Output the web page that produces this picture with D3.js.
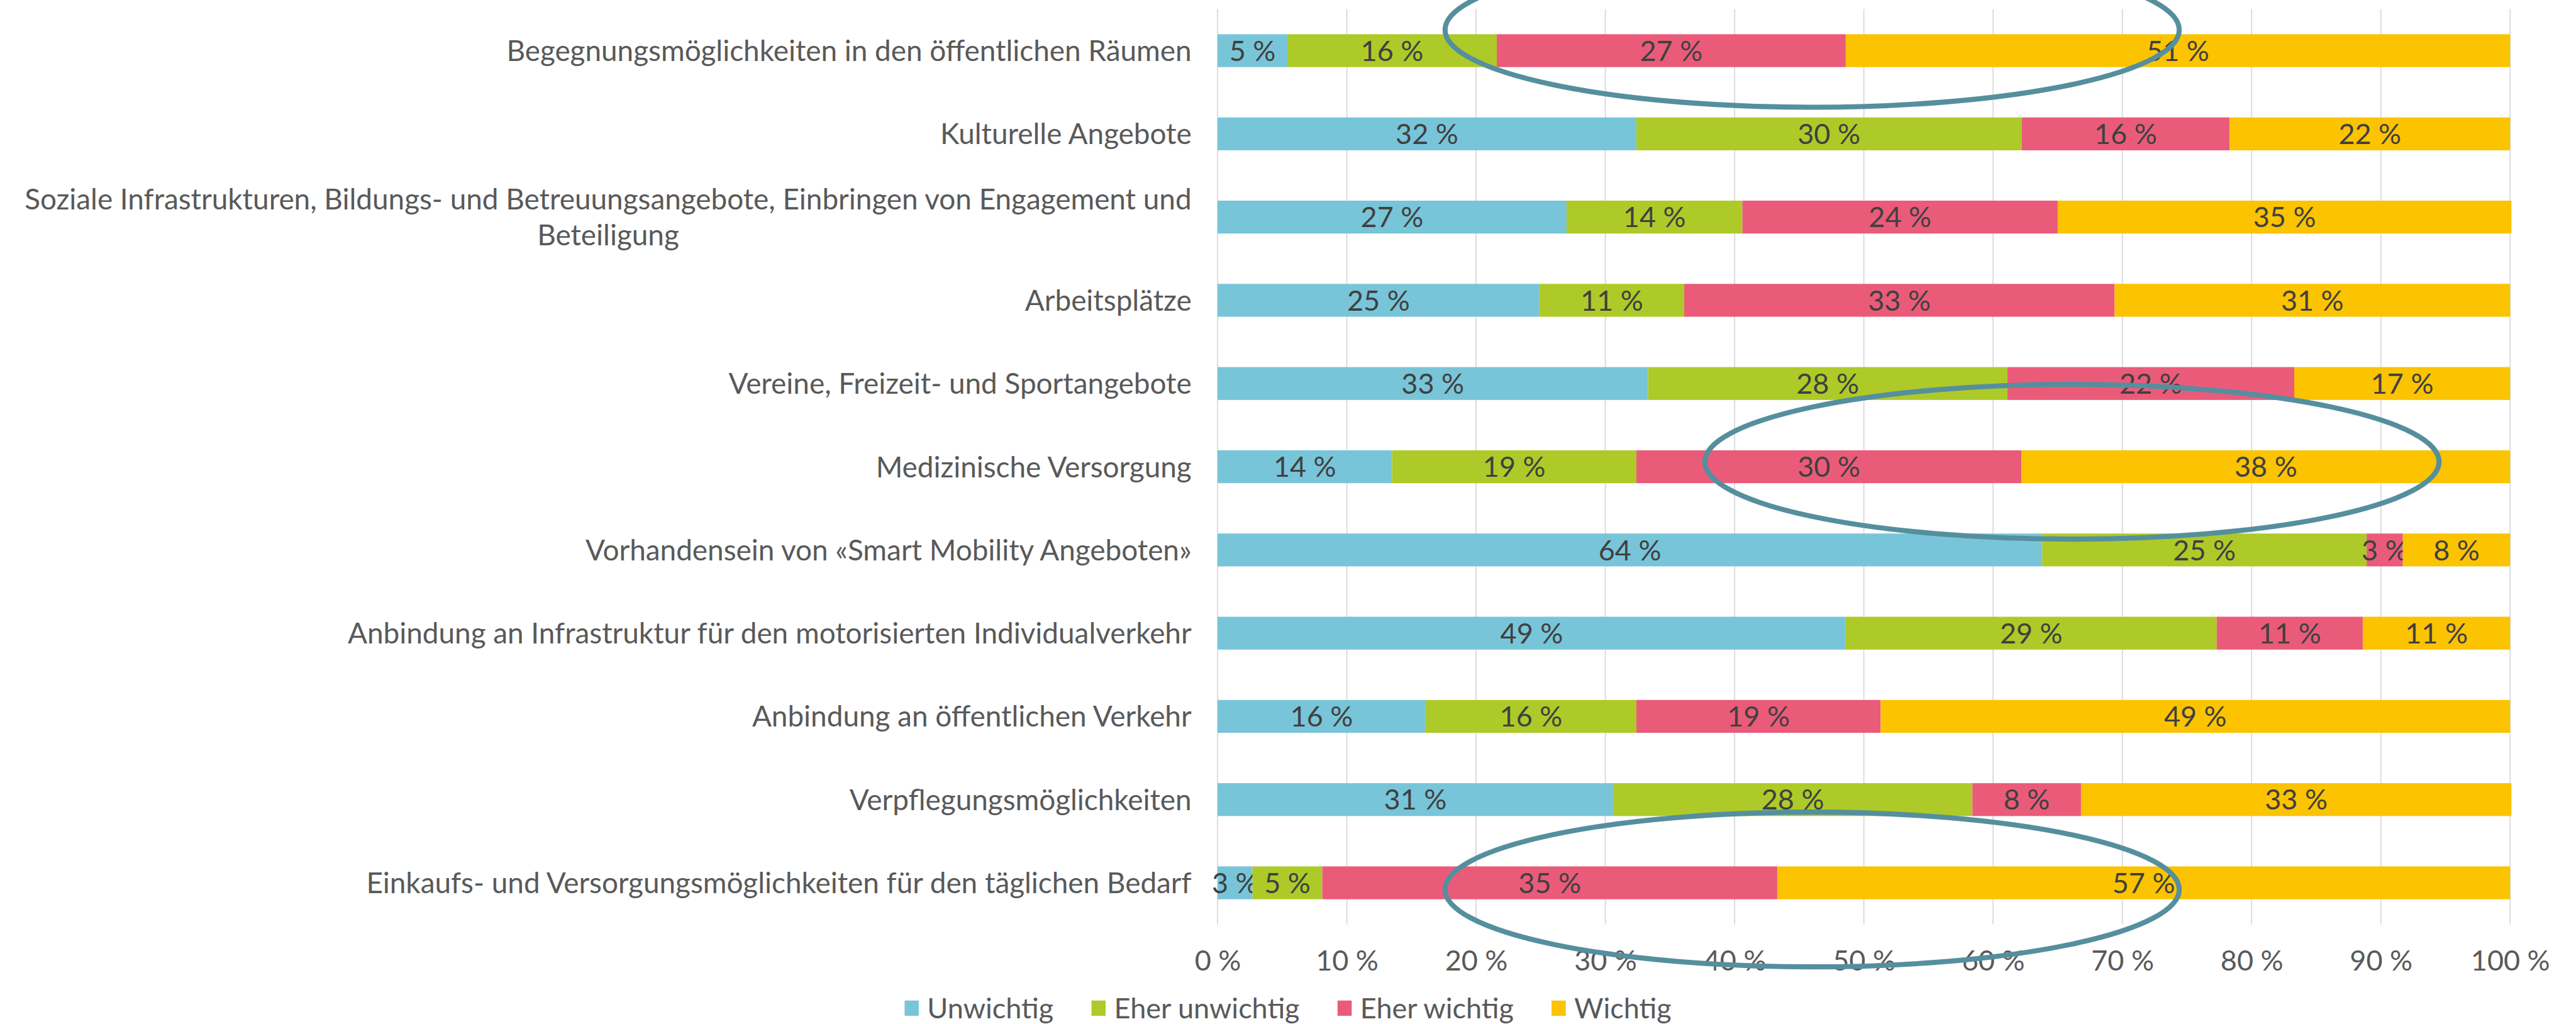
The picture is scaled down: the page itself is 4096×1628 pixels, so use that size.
<!DOCTYPE html>
<html>
<head>
<meta charset="utf-8">
<script src="https://cdn.jsdelivr.net/npm/d3@7"></script>
<style>
  html, body { margin: 0; padding: 0; background: #fff; }
  svg { display: block; }
  text { font-family: Lato, "Open Sans", sans-serif; }
</style>
</head>
<body>
<div id="chart"></div>
<script>
// Kategorien (von oben nach unten), Zeilenumbruch mit \n
const categories = [
    "Begegnungsmöglichkeiten in den öffentlichen Räumen",
    "Kulturelle Angebote",
    "Soziale Infrastrukturen, Bildungs- und Betreuungsangebote, Einbringen von Engagement und\nBeteiligung",
    "Arbeitsplätze",
    "Vereine, Freizeit- und Sportangebote",
    "Medizinische Versorgung",
    "Vorhandensein von «Smart Mobility Angeboten»",
    "Anbindung an Infrastruktur für den motorisierten Individualverkehr",
    "Anbindung an öffentlichen Verkehr",
    "Verpflegungsmöglichkeiten",
    "Einkaufs- und Versorgungsmöglichkeiten für den täglichen Bedarf"
];

const seriesNames = ["Unwichtig", "Eher unwichtig", "Eher wichtig", "Wichtig"];
const seriesColors = ["#78c5d9", "#aeca28", "#ea5b7a", "#fbc300"];

// Werte in Prozent
const unwichtig     = [5.4, 32.4, 27.0, 24.9, 33.3, 13.5, 63.8, 48.6, 16.1, 30.6, 2.7];
const eherUnwichtig = [16.2, 29.8, 13.6, 11.2, 27.8, 18.9, 25.1, 28.7, 16.3, 27.8, 5.4];
const eherWichtig   = [27.0, 16.1, 24.4, 33.3, 22.2, 29.8, 2.8, 11.3, 18.9, 8.4, 35.2];
const wichtig       = [51.4, 21.7, 35.1, 30.6, 16.7, 37.8, 8.3, 11.4, 48.7, 33.3, 56.7];

const xTicks = [0, 10, 20, 30, 40, 50, 60, 70, 80, 90, 100];

// Markierungen (Ellipsen): Kategorie, Mittelpunkt in %, Versatz in Bandbreiten
const markCategories = [0, 5, 10];
const markCenters    = [46.0, 66.1, 46.0];
const markOffsets    = [-0.25, -0.06, 0.08];

// Konfiguration (Referenzmaße, per viewBox skaliert)
const W = 4553, H = 1810;
const margin = { left: 2152, right: 116, top: 16, bottom: 176 };
const fontSize = 50;
const labelFontSize = 51;

const rows = categories.map((c, i) => ({
    category: c,
    "Unwichtig": unwichtig[i],
    "Eher unwichtig": eherUnwichtig[i],
    "Eher wichtig": eherWichtig[i],
    "Wichtig": wichtig[i]
}));

const svg = d3.select('#chart')
    .append('svg')
    .attr('width', 4096)
    .attr('height', 1628)
    .attr('viewBox', `0 0 ${W} ${H}`);

const x = d3.scaleLinear()
    .domain([0, 100])
    .range([margin.left, W - margin.right]);

const y = d3.scaleBand()
    .domain(categories)
    .range([margin.top, H - margin.bottom])
    .paddingInner(0.605)
    .paddingOuter(0.3025);

// Gitternetzlinien
svg.append('g')
    .selectAll('line')
    .data(xTicks)
    .join('line')
    .attr('x1', d => x(d))
    .attr('x2', d => x(d))
    .attr('y1', margin.top)
    .attr('y2', H - margin.bottom)
    .attr('stroke', '#d9d9d9')
    .attr('stroke-width', 2);

// Gestapelte Balken
const stack = d3.stack().keys(seriesNames);
const stacked = stack(rows);

const layers = svg.append('g')
    .selectAll('g')
    .data(stacked)
    .join('g')
    .attr('fill', (d, i) => seriesColors[i]);

layers.selectAll('rect')
    .data(d => d)
    .join('rect')
    .attr('x', d => x(d[0]))
    .attr('y', d => y(d.data.category))
    .attr('width', d => x(d[1]) - x(d[0]))
    .attr('height', y.bandwidth());

// Datenbeschriftungen
layers.selectAll('text')
    .data(d => d)
    .join('text')
    .attr('x', d => (x(d[0]) + x(d[1])) / 2)
    .attr('y', d => y(d.data.category) + y.bandwidth() / 2)
    .attr('dy', '0.36em')
    .attr('text-anchor', 'middle')
    .attr('font-size', fontSize)
    .attr('fill', '#404040')
    .text(d => Math.round(d[1] - d[0]) + ' %');

// X-Achse (nur Beschriftung)
const xAxis = svg.append('g')
    .attr('transform', `translate(0, ${H - margin.bottom})`)
    .call(d3.axisBottom(x).tickValues(xTicks).tickSize(0).tickFormat(d => d + ' %'));
xAxis.select('.domain').remove();
xAxis.selectAll('text')
    .attr('y', 63)
    .attr('dy', '0.36em')
    .attr('font-size', fontSize)
    .attr('font-family', 'Lato, "Open Sans", sans-serif')
    .attr('fill', '#595959');

// Y-Achse (Kategorien, mehrzeilig zentriert)
const labelRight = margin.left - 46;
const lineH = 64;
const yLabels = svg.append('g')
    .selectAll('text')
    .data(categories)
    .join('text')
    .attr('font-size', labelFontSize)
    .attr('fill', '#595959')
    .attr('text-anchor', 'middle');

yLabels.each(function(c) {
    const t = d3.select(this);
    const lines = c.split('\n');
    const cy = y(c) + y.bandwidth() / 2;
    lines.forEach((ln, k) => {
        t.append('tspan')
            .attr('y', cy + (k - (lines.length - 1) / 2) * lineH)
            .attr('dy', '0.36em')
            .text(ln);
    });
    let maxW = 0;
    t.selectAll('tspan').each(function() {
        maxW = Math.max(maxW, this.getComputedTextLength());
    });
    t.selectAll('tspan').attr('x', labelRight - maxW / 2);
});

// Legende
const legend = svg.append('g');
const sw = 25, sh = 27, gapText = 15, gapItem = 67;
const items = legend.selectAll('g')
    .data(seriesNames)
    .join('g');
items.append('rect')
    .attr('width', sw)
    .attr('height', sh)
    .attr('y', -sh / 2)
    .attr('fill', (d, i) => seriesColors[i]);
items.append('text')
    .attr('x', sw + gapText)
    .attr('dy', '0.36em')
    .attr('font-size', fontSize)
    .attr('fill', '#595959')
    .text(d => d);

let offs = [], total = 0;
items.each(function() {
    const w = sw + gapText + d3.select(this).select('text').node().getComputedTextLength();
    offs.push(total);
    total += w + gapItem;
});
total -= gapItem;
const legendY = 1782;
items.attr('transform', (d, i) => `translate(${W / 2 - total / 2 + offs[i]}, ${legendY})`);

// Ellipsen-Markierungen
svg.append('g')
    .selectAll('ellipse')
    .data(markCategories)
    .join('ellipse')
    .attr('cx', (d, i) => x(markCenters[i]))
    .attr('cy', (d, i) => y(categories[d]) + y.bandwidth() / 2 + markOffsets[i] * y.step())
    .attr('rx', x(28.4) - x(0))
    .attr('ry', y.step() * 0.93)
    .attr('fill', 'none')
    .attr('stroke', '#558f9e')
    .attr('stroke-width', 9);
</script>
</body>
</html>
